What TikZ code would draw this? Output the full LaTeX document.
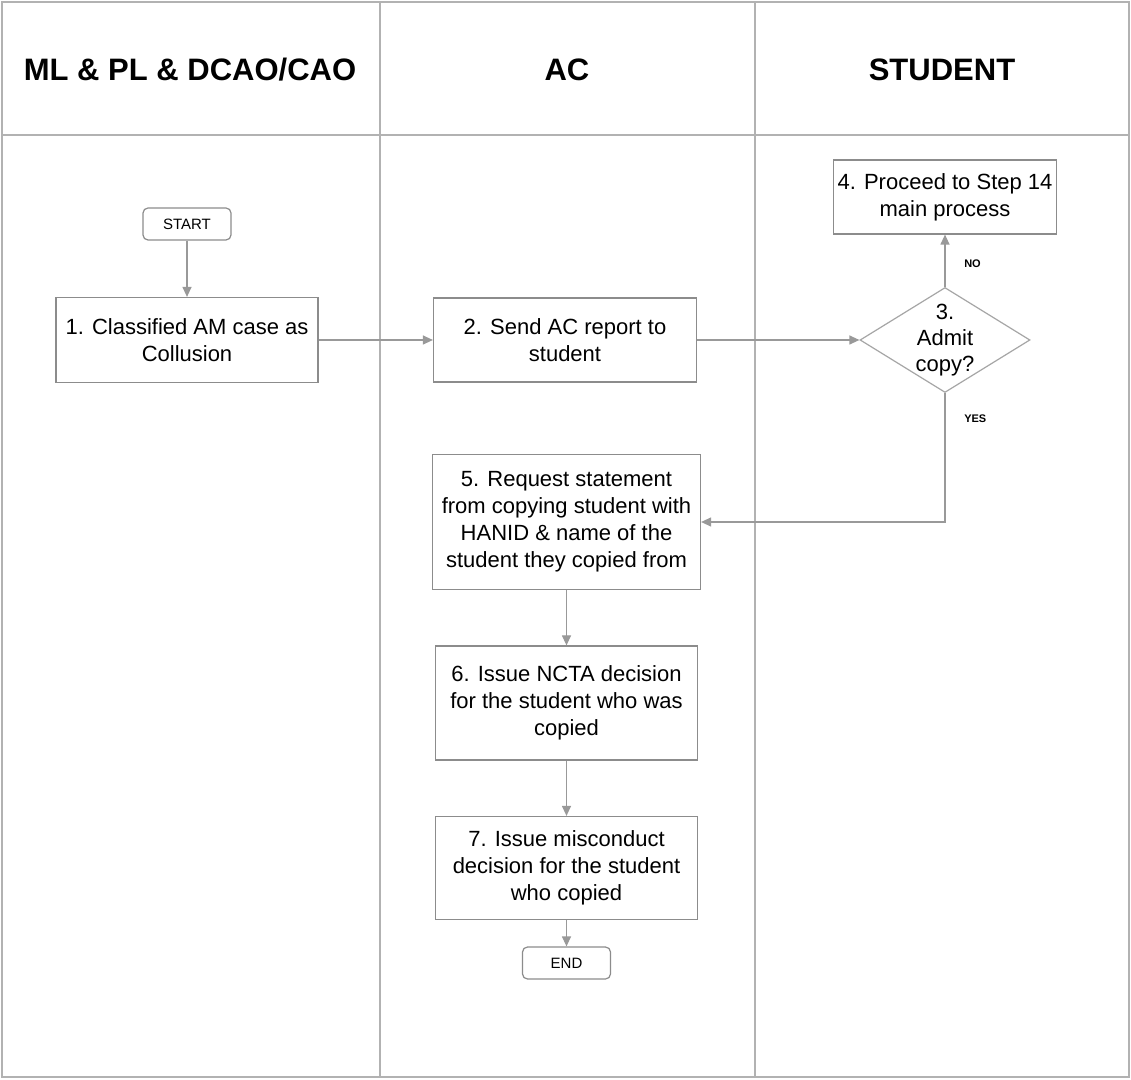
\documentclass[tikz,border=0pt]{standalone}
\usepackage{fontspec}
\setmainfont{Liberation Sans}
\usetikzlibrary{arrows.meta,shapes.geometric}
\tikzset{
  lane/.style={draw=black!30, line width=0.6pt},
  lanehead/.style={font=\fontsize{15.5}{18}\selectfont\bfseries},
  stepbox/.style={draw=black!45, line width=0.6pt, align=center, inner sep=2pt,
    font=\fontsize{11}{13.5}\selectfont},
  endbox/.style={draw=black!45, line width=0.6pt, rounded corners=2.5pt,
    minimum width=44pt, minimum height=16pt, inner sep=1pt, font=\fontsize{7.5}{9}\selectfont},
  decision/.style={diamond, draw=black!35, line width=0.6pt, inner sep=0pt,
    minimum width=85pt, minimum height=52.5pt},
  flow/.style={draw=black!40, line width=0.6pt, -{Triangle[length=5pt,width=4.5pt]}},
  flowlabel/.style={font=\fontsize{5.5}{6}\selectfont\bfseries},
}
\begin{document}
\begin{tikzpicture}[x=0.5pt,y=-0.5pt]
\useasboundingbox[fill=white] (0,0) rectangle (1131,1080);
% swimlanes
\draw[lane] (2,2) rectangle (1129,1077);
\draw[lane] (2,135) -- (1129,135);
\draw[lane] (380,2) -- (380,1077);
\draw[lane] (755,2) -- (755,1077);
\node[lanehead] (h1) at (190,70) {ML \& PL \& DCAO/CAO};
\node[lanehead] (h2) at (567,70) {AC};
\node[lanehead] (h3) at (942,70) {STUDENT};
% steps
\node[endbox] (start) at (187,224) {START};
\node[stepbox, minimum width=131pt, minimum height=42.5pt] (s1) at (187,340) {1. Classified AM case as\\Collusion};
\node[stepbox, minimum width=131.5pt, minimum height=42pt] (s2) at (565,340) {2. Send AC report to\\student};
\node[decision, label={[align=center, font=\fontsize{11}{13}\selectfont]center:{3.\\Admit\\copy?}}] (q3) at (945,340) {};
\node[stepbox, minimum width=108.5pt, minimum height=37pt] (s4) at (945,197) {4. Proceed to Step 14\\main process};
\node[stepbox, minimum width=134pt, minimum height=67.5pt] (s5) at (566.5,522) {5. Request statement\\from copying student with\\HANID \& name of the\\student they copied from};
\node[stepbox, minimum width=131pt, minimum height=57pt] (s6) at (566.5,703) {6. Issue NCTA decision\\for the student who was\\copied};
\node[stepbox, minimum width=131pt, minimum height=51.5pt] (s7) at (566.5,868) {7. Issue misconduct\\decision for the student\\who copied};
\node[endbox] (end) at (566.5,963) {END};
% connectors
\draw[flow] (start) -- (s1);
\draw[flow] (s1) -- (s2);
\draw[flow] (s2) -- (q3);
\draw[flow] (q3) -- node[flowlabel, right=6pt, pos=0.45] {NO} (s4);
\draw[flow] (q3.south) |- node[flowlabel, right=6pt, pos=0.1] {YES} (s5.east);
\draw[flow] (s5) -- (s6);
\draw[flow] (s6) -- (s7);
\draw[flow] (s7) -- (end);
\end{tikzpicture}
\end{document}
